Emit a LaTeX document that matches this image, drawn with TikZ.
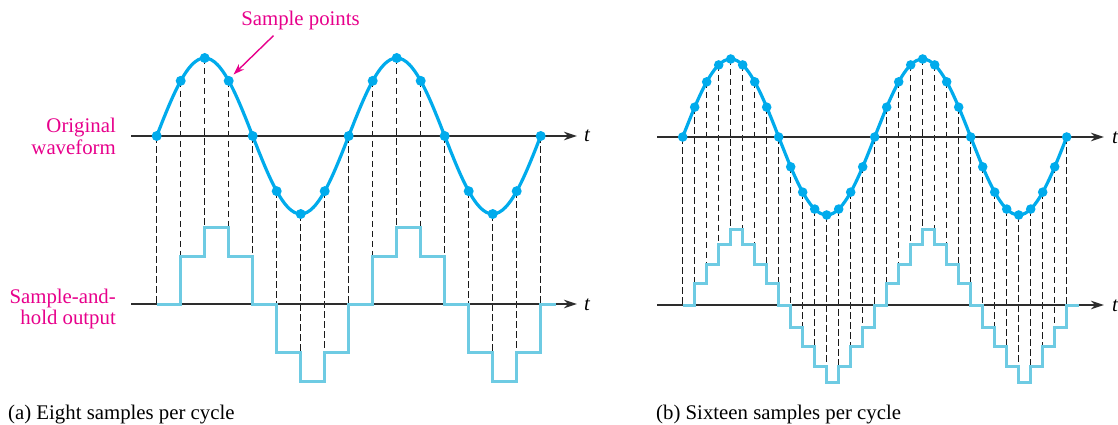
\documentclass[tikz,border=0pt]{standalone}
\usepackage{fontspec}
\setmainfont{Liberation Serif}
\newfontfamily\figfont{Liberation Serif}
\usetikzlibrary{arrows.meta}
\definecolor{wavecyan}{RGB}{0,171,236}
\definecolor{holdcyan}{RGB}{110,203,227}
\definecolor{labelpink}{RGB}{231,0,139}
\definecolor{axisgray}{RGB}{45,45,45}

\begin{document}
\begin{tikzpicture}[x=1pt, y=-1pt,
	axisline/.style={axisgray, line width=1.6pt, -{Stealth[length=13pt,width=8.5pt]}},
	sinewave/.style={wavecyan, line width=3.2pt},
	holdline/.style={holdcyan, line width=3pt, line join=miter},
	guide/.style={black!90, line width=1.3pt, dash pattern=on 6.5pt off 3.5pt},
	sampledot/.style={wavecyan},
	txt/.style={font=\figfont\fontsize{20.8pt}{24pt}\selectfont, inner sep=0pt},
	pinklabel/.style={txt, labelpink, anchor=base east},
	tlabel/.style={inner sep=0pt, font=\figfont\fontsize{20.8pt}{24pt}\selectfont\itshape, anchor=base west}]
	\useasboundingbox (0, 0) rectangle (1118, 425);

	% (a) eight samples per cycle
	\foreach \lv [count=\k from 0] in {0,48,77,48,0,-48,-77,-48,0,48,77,48,0,-48,-77,-48,0}
		\draw [guide] ({156.7+24*\k}, {136-78*sin(45*\k)}) -- ({156.7+24*\k}, {304-\lv});
	\draw [axisline] (131, 136) -- (577, 136);
	\draw [axisline] (131, 304) -- (577, 304);
	\draw [holdline] (156.7, 304)
		\foreach \lv [count=\k from 0] in {0,48,77,48,0,-48,-77,-48,0,48,77,48,0,-48,-77,-48}
			{ -- ({156.7+24*\k}, {304-\lv}) -- ({180.7+24*\k}, {304-\lv}) }
		-- (540.7, 304) -- (556, 304);
	\draw [sinewave] plot [domain=0:720, samples=121, smooth] ({156.7+\x/1.875}, {136-78*sin(\x)});
	\foreach \k in {0,...,16}
		\fill [sampledot] ({156.7+24*\k}, {136-78*sin(45*\k)}) circle (5pt);
	\node [tlabel] (ta1) at (584, 142) {t};
	\node [tlabel] (ta2) at (584, 310) {t};

	% (b) sixteen samples per cycle
	\foreach \lv [count=\k from 0] in {0,22,41,61,76,61,41,22,0,-22,-41,-61,-77,-61,-41,-22,0,22,41,61,76,61,41,22,0,-22,-41,-61,-77,-61,-41,-22,0}
		\draw [guide] ({682.7+12*\k}, {137-78*sin(22.5*\k)}) -- ({682.7+12*\k}, {305-\lv});
	\draw [axisline] (657, 137) -- (1104, 137);
	\draw [axisline] (657, 305) -- (1104, 305);
	\draw [holdline] (682.7, 305)
		\foreach \lv [count=\k from 0] in {0,22,41,61,76,61,41,22,0,-22,-41,-61,-77,-61,-41,-22,0,22,41,61,76,61,41,22,0,-22,-41,-61,-77,-61,-41,-22,0}
			{ -- ({682.7+12*\k}, {305-\lv}) -- ({694.7+12*\k}, {305-\lv}) };
	\draw [sinewave] plot [domain=0:720, samples=121, smooth] ({682.7+\x/1.875}, {137-78*sin(\x)});
	\foreach \k in {0,...,32}
		\fill [sampledot] ({682.7+12*\k}, {137-78*sin(22.5*\k)}) circle (4.8pt);
	\node [tlabel] (tb1) at (1112, 143) {t};
	\node [tlabel] (tb2) at (1112, 311) {t};

	% labels
	\node [pinklabel] (orig1) at (116, 132) {Original};
	\node [pinklabel] (orig2) at (116, 154) {waveform};
	\node [pinklabel] (hold1) at (116, 303) {Sample-and-};
	\node [pinklabel] (hold2) at (116, 324.5) {hold output};
	\node [pinklabel, anchor=base] (spl) at (300.5, 26) {Sample points};
	\coordinate (hit) at (233.5, 74.5);
	\draw [labelpink, line width=1.4pt, -{Stealth[length=11pt,width=7.5pt]}] ([xshift=-27pt,yshift=-5pt]spl.south) -- (hit);
	\node [txt, anchor=base west] (capa) at (8, 419) {(a) Eight samples per cycle};
	\node [txt, anchor=base west] (capb) at (656, 419) {(b) Sixteen samples per cycle};
\end{tikzpicture}
\end{document}
